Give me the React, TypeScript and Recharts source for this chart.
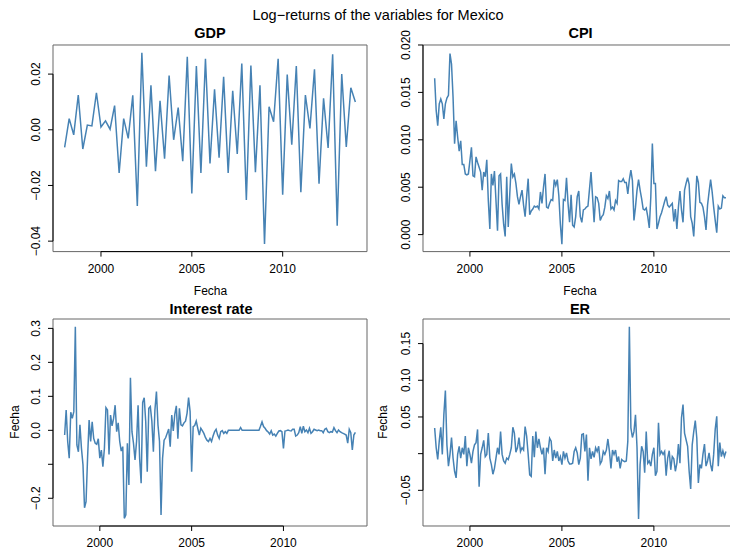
import React from "react";
import { LineChart, Line, XAxis, YAxis, ReferenceArea, ReferenceLine } from "recharts";

// quarterly, 1998Q1 .. 2014Q1
const gdp = [
  -0.0063, 0.004, -0.0018, 0.0125, -0.0069, 0.0017, 0.0014, 0.0133,
  0.001, 0.0032, 0.0002, 0.0087, -0.0155, 0.004, -0.0031, 0.0124,
  -0.0274, 0.0277, -0.0133, 0.016, -0.0149, 0.0104, -0.0104, 0.0195,
  -0.0036, 0.008, -0.0113, 0.0262, -0.0229, 0.0229, -0.0155, 0.0255,
  -0.0121, 0.0145, -0.01, 0.019, -0.0155, 0.014, -0.0087, 0.0238,
  -0.0252, 0.0231, -0.0152, 0.016, -0.041, 0.0083, 0.0029, 0.0255,
  -0.0233, 0.0198, -0.0054, 0.0229, -0.0224, 0.0125, 0.0005, 0.0217,
  -0.0194, 0.0113, -0.0065, 0.0271, -0.0345, 0.02, -0.0062, 0.0151,
  0.01,
];

// monthly, Feb 1998 .. Dec 2013
const cpi = [
  0.0165, 0.0131, 0.0115, 0.0138, 0.0143, 0.0138, 0.0122, 0.0138, 0.0144, 0.0147,
  0.0191, 0.018, 0.0145, 0.0096, 0.012, 0.0103, 0.0088, 0.0099, 0.0074, 0.0074,
  0.0064, 0.0063, 0.0064, 0.0078, 0.0092, 0.0062, 0.0061, 0.0082, 0.0076, 0.0071,
  0.0066, 0.0047, 0.0066, 0.0061, 0.0079, 0.0036, 0.0006, 0.0064, 0.0052, 0.0067,
  0.0036, 0.0004, 0.0062, 0.0064, 0.0032, 0.0011, -0.0002, 0.0061, 0.0008, 0.0043,
  0.0075, 0.0061, 0.0064, 0.0054, 0.004, 0.0032, 0.004, 0.0047, 0.0031, 0.0019,
  0.004, 0.0059, 0.0021, 0.0025, 0.0027, 0.003, 0.0029, 0.003, 0.0027, 0.0045,
  0.0033, 0.005, 0.0064, 0.0029, 0.0028, 0.0033, 0.0037, 0.0036, 0.0058, 0.0052,
  0.0058, 0.0041, 0.0011, -0.001, 0.0037, 0.0036, 0.006, 0.0033, 0.0013, 0.0042,
  0.001, 0.0008, 0.0019, 0.004,
  0.0046, 0.0019, 0.0013, 0.0026, 0.0027, 0.0029, 0.003, 0.0048, 0.0066, 0.004,
  0.0013, 0.004, 0.0039, 0.0033, 0.0015, 0.0019, 0.0021, 0.0029, 0.0041, 0.0038,
  0.0046, 0.0027, 0.0029, 0.0026, 0.0036, 0.0033, 0.0057, 0.0056, 0.0056, 0.0059,
  0.0055, 0.0055, 0.0043, 0.0058, 0.0068, 0.0057, 0.0015, 0.0029, 0.0047, 0.0058,
  0.0047, 0.0038, 0.0027, 0.0026, 0.0028, 0.0019, 0.0007, 0.004, 0.0096, 0.0054,
  0.0054, 0.0006, 0.0012, 0.0019, 0.0023, 0.0029, 0.0035, 0.004, 0.0031, 0.0029,
  0.0031, 0.0033, 0.0014, 0.0027, 0.0006, 0.0029, 0.0046, 0.0026, 0.0013, 0.0047,
  0.0054, 0.006, 0.0053, 0.0019, 0.0012, -0.0002, 0.0029, 0.0062, 0.0055, 0.0034,
  0.0033, 0.0029, 0.0019, 0.0005, 0.0031, 0.0045, 0.0058, 0.0045, 0.0029, 0.0015,
  0.0002, 0.003, 0.0027, 0.0028, 0.0041, 0.0039, 0.0039,
];

const interest = [
  -0.014, 0.06, -0.033, -0.082, 0.053, 0.035, 0.055, 0.305, -0.043, -0.063,
  0.016, -0.053, -0.102, -0.228, -0.21, -0.08, 0.03, -0.033, 0.025, -0.024,
  -0.038, -0.041, -0.025, -0.082, -0.058, -0.107, -0.053, 0.067, 0.06, -0.071,
  0.045, 0.013, 0.035, 0.074, -0.004, 0.022, -0.033, -0.061, -0.048, -0.259,
  -0.249, -0.038, -0.161, 0.155, -0.004, -0.038, -0.087, -0.033, 0.074, -0.082,
  -0.156, 0.082, 0.096, 0.025, -0.122, 0.065, 0.07, 0.027, -0.063, 0.06,
  0.114, 0.016, -0.033, -0.249, -0.082, -0.029, -0.022, -0.009, 0.004, -0.048,
  0.045, -0.002, 0.047, 0.072, -0.025, 0.065, 0.016, 0.013, 0.022, 0.027,
  0.05, 0.096, 0.055, -0.122, 0.011, 0.014, 0.027, 0.006, -0.014,
  0.006, -0.001, -0.009, -0.021, -0.029, -0.033, -0.024, -0.033, -0.017, -0.004,
  0.003, -0.014, -0.024, -0.004, -0.001, -0.009, -0.004, -0.009, 0, 0,
  0, 0, 0, 0, 0, 0, 0.008, 0, 0, 0,
  0, 0, 0, 0, 0, 0, 0, 0, 0, 0.012,
  0.025, 0.011, 0.006, -0.001, -0.005, -0.011, -0.001, -0.014, -0.011, -0.017,
  -0.009, -0.002, -0.001, -0.004, -0.053, -0.002, -0.001, 0.001, -0.001, -0.002,
  0.003, 0.003, -0.017, -0.014, -0.007, 0.011, -0.009, 0.012, -0.004, 0.001,
  -0.007, 0.006, -0.009, -0.004, 0.003, 0.001, -0.001, 0.001, -0.001, -0.001,
  -0.007, 0.003, 0.006, -0.004, -0.007, -0.004, -0.005, 0.008, -0.001, -0.007,
  0.001, -0.004, -0.007, -0.009, -0.011, -0.014, -0.038, 0.003, -0.007, -0.058,
  -0.014, -0.006,
];

const er = [
  0.035, 0.008, -0.008, 0.017, 0.036, -0.001, 0.053, 0.086, 0.012, -0.017,
  -0.001, 0.022, -0.006, -0.024, -0.033, -0.001, 0.01, -0.006, 0.008, -0.001,
  0.024, -0.017, 0.008, -0.001, -0.013, 0.003, 0.012, 0.015, 0.033, -0.045,
  -0.001, 0.008, 0.018, -0.004, -0.001, 0.028, -0.006, -0.015, -0.028, -0.02,
  -0.006, 0.008, -0.001, 0.03, -0.001, -0.01, -0.013, -0.006, -0.008, -0.001,
  0.008, 0.036, 0.028, 0.002, 0.008, 0.022, 0.003, 0.008, 0.005, 0.037,
  0.024, -0.001, -0.029, -0.031, 0.024, -0.005, 0.03, 0.008, 0.02, 0.008,
  -0.001, 0.008, -0.028, 0.008, 0.003, 0.021, 0.017, -0.01, 0.005, -0.006,
  0.003, -0.01, -0.004, -0.015, 0.003, -0.006, 0.001, -0.01, -0.014, -0.014,
  -0.013, 0.003, 0.008, 0.001, -0.015,
  -0.006, 0.026, 0.027, 0.003, 0.026, -0.037, 0.008, -0.007, 0.003, -0.005,
  0.008, 0.003, 0.01, -0.014, -0.01, 0.003, -0.001, 0.005, 0.02, 0.003,
  -0.02, 0.005, -0.001, 0.005, -0.011, -0.004, -0.02, -0.008, -0.01, -0.011,
  -0.01, 0.017, 0.173, 0.035, 0.022, 0.03, 0.053, 0.008, -0.089, -0.015,
  0.01, 0.003, -0.026, 0.03, -0.013, -0.01, -0.017, -0.001, 0.008, -0.03,
  -0.024, 0.042, -0.001, 0.003, -0.001, 0.003, -0.03, -0.006, 0.004, -0.022,
  -0.004, -0.007, -0.024, -0.013, 0.013, -0.013, 0.049, 0.067, 0.028, 0.019,
  0.01, -0.024, -0.048, 0.012, 0.03, 0.045, 0.021, -0.04, -0.015, -0.02,
  -0.001, 0.013, -0.017, -0.01, 0.001, -0.015, -0.024, -0.001, 0.033, 0.051,
  -0.017, 0.015, -0.004, 0.004, -0.004, 0.003,
];

const yearTicks = [2000, 2005, 2010];

const gdpTicks = [-0.04, -0.02, 0, 0.02];
const gdpLabels = ["\u22120.04", "\u22120.02", "0.00", "0.02"];
const cpiTicks = [0, 0.005, 0.01, 0.015, 0.02];
const cpiLabels = ["0.000", "0.005", "0.010", "0.015", "0.020"];
const irTicks = [-0.2, -0.1, 0, 0.1, 0.2, 0.3];
const irLabels = ["\u22120.2", "", "0.0", "0.1", "0.2", "0.3"];
const erTicks = [-0.05, 0, 0.05, 0.1, 0.15];
const erLabels = ["\u22120.05", "", "0.05", "0.10", "0.15"];

const quarterly = (vals: number[]) => vals.map((v, i) => ({ t: 1998 + i / 4, v }));
const monthly = (vals: number[]) => vals.map((v, i) => ({ t: 1998 + (i + 1) / 12, v }));

const FONT = "'Liberation Sans', Arial, Helvetica, sans-serif";
const LINE = "#4682b4";

const XTick = (props: any) => {
  const { x, y, payload } = props;
  return (
    <text x={x} y={y + 12} textAnchor="middle" dominantBaseline="central" fontSize={12} fill="#000" fontFamily={FONT}>
      {payload.value}
    </text>
  );
};

const YTick = (props: any) => {
  const { x, y, index, labels } = props;
  const cx = x - 12;
  return (
    <text
      x={cx}
      y={y}
      transform={`rotate(-90, ${cx}, ${y})`}
      textAnchor="middle"
      dominantBaseline="central"
      fontSize={12}
      fill="#000"
      fontFamily={FONT}
    >
      {labels[index]}
    </text>
  );
};

type Box = { x: number; y: number; w: number; h: number };

function Panel(props: {
  box: Box;
  data: { t: number; v: number }[];
  xDomain: [number, number];
  yDomain: [number, number];
  yTicks: number[];
  yLabels: string[];
}) {
  const { box, data, xDomain, yDomain, yTicks, yLabels } = props;
  // room round the plot box so rotated labels at the edges are not clipped
  const YW = 50, TM = 30, RM = 10, XH = 40;
  return (
    <div style={{ position: "absolute", left: box.x - YW, top: box.y - TM }}>
      <LineChart
        width={YW + box.w + RM}
        height={TM + box.h + XH}
        data={data}
        margin={{ top: TM, right: RM, bottom: 0, left: 0 }}
      >
        <XAxis
          type="number"
          dataKey="t"
          domain={xDomain}
          ticks={yearTicks}
          allowDataOverflow
          interval={0}
          tickSize={5}
          tickMargin={0}
          height={XH}
          axisLine={false}
          tickLine={{ stroke: "#000" }}
          tick={XTick}
        />
        <YAxis
          type="number"
          domain={yDomain}
          ticks={yTicks}
          allowDataOverflow
          interval={0}
          tickSize={5}
          tickMargin={0}
          width={YW}
          axisLine={false}
          tickLine={{ stroke: "#000" }}
          tick={(p: any) => <YTick {...p} labels={yLabels} />}
        />
        <ReferenceArea
          x1={xDomain[0]}
          x2={xDomain[1]}
          y1={yDomain[0]}
          y2={yDomain[1]}
          fill="none"
          stroke="#666"
          strokeWidth={1}
        />
        <Line type="linear" dataKey="v" stroke={LINE} strokeWidth={1.5} dot={false} isAnimationActive={false} />
        <ReferenceLine
          segment={[
            { x: yearTicks[0], y: yDomain[0] },
            { x: yearTicks[yearTicks.length - 1], y: yDomain[0] },
          ]}
          stroke="#000"
        />
        <ReferenceLine
          segment={[
            { x: xDomain[0], y: yTicks[0] },
            { x: xDomain[0], y: yTicks[yTicks.length - 1] },
          ]}
          stroke="#000"
        />
      </LineChart>
    </div>
  );
}

const Label = ({ x, y, text, size = 12, bold = false, rotate = false }: any) => (
  <div
    style={{
      position: "absolute",
      left: x,
      top: y,
      transform: `translate(-50%, -50%)${rotate ? " rotate(-90deg)" : ""}`,
      fontSize: size,
      fontWeight: bold ? "bold" : "normal",
      fontFamily: FONT,
      whiteSpace: "nowrap",
      color: "#000",
    }}
  >
    {text}
  </div>
);

export default function App() {
  const monthDomain: [number, number] = [1997.45, 2014.55];
  return (
    <div
      style={{
        position: "absolute",
        left: 0,
        top: 0,
        width: 730,
        height: 555,
        overflow: "hidden",
        background: "#fff",
      }}
    >
      <Panel
        box={{ x: 53.3, y: 44.7, w: 314, h: 206.6 }}
        data={quarterly(gdp)}
        xDomain={[1997.36, 2014.64]}
        yDomain={[-0.04375, 0.03045]}
        yTicks={gdpTicks}
        yLabels={gdpLabels}
      />
      <Panel
        box={{ x: 423.3, y: 44.7, w: 314.6, h: 206.6 }}
        data={monthly(cpi)}
        xDomain={monthDomain}
        yDomain={[-0.00179, 0.02]}
        yTicks={cpiTicks}
        yLabels={cpiLabels}
      />
      <Panel
        box={{ x: 53.3, y: 319.3, w: 314, h: 207 }}
        data={monthly(interest)}
        xDomain={monthDomain}
        yDomain={[-0.2816, 0.3276]}
        yTicks={irTicks}
        yLabels={irLabels}
      />
      <Panel
        box={{ x: 423.3, y: 319.3, w: 314.6, h: 207 }}
        data={monthly(er)}
        xDomain={monthDomain}
        yDomain={[-0.0986, 0.1835]}
        yTicks={erTicks}
        yLabels={erLabels}
      />

      <Label x={378} y={15} size={14.5} text={"Log\u2212returns of the variables for Mexico"} />

      <Label x={210} y={33} size={14.5} bold text="GDP" />
      <Label x={580.5} y={33} size={14.5} bold text="CPI" />
      <Label x={211} y={309} size={14.5} bold text="Interest rate" />
      <Label x={580} y={309} size={14.5} bold text="ER" />

      <Label x={210.5} y={291} text="Fecha" />
      <Label x={580} y={291} text="Fecha" />
      <Label x={15} y={422} rotate text="Fecha" />
      <Label x={383} y={422} rotate text="Fecha" />
    </div>
  );
}
